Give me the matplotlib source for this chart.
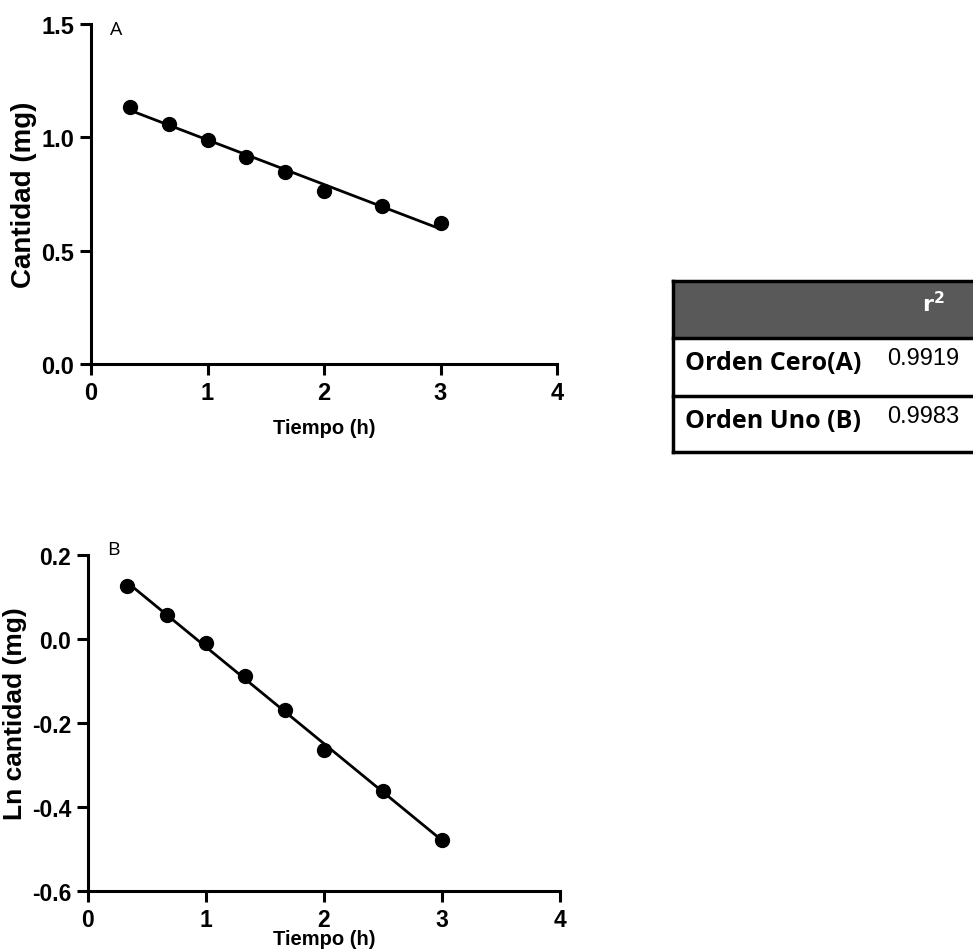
import numpy as np
import matplotlib
matplotlib.use("Agg")
import matplotlib.pyplot as plt
from matplotlib.patches import Rectangle

# ---- data ----
tiempo = [0.333, 0.667, 1.0, 1.333, 1.667, 2.0, 2.5, 3.0]
cantidad = [1.135, 1.06, 0.99, 0.915, 0.845, 0.765, 0.695, 0.62]
ln_cantidad = [0.127, 0.058, -0.010, -0.088, -0.170, -0.265, -0.362, -0.478]
modelos = ["Orden Cero(A)", "Orden Uno (B)"]
r2_vals = ["0.9919", "0.9983"]

plt.rcParams['font.family'] = ['Liberation Sans', 'DejaVu Sans']

fig = plt.figure(figsize=(9.73, 9.53), dpi=100)

def style(ax, size):
    for s in ['top', 'right']:
        ax.spines[s].set_visible(False)
    for s in ['left', 'bottom']:
        ax.spines[s].set_linewidth(2.2)
    ax.tick_params(width=2.2, length=8, direction='out', labelsize=size, pad=4)
    for lab in ax.get_xticklabels() + ax.get_yticklabels():
        lab.set_fontweight('bold')

def fit_line(ax, x, y):
    x = np.asarray(x); y = np.asarray(y)
    m, b = np.polyfit(x, y, 1)
    xx = np.array([x.min(), x.max()])
    ax.plot(xx, m * xx + b, color='black', lw=2.0, zorder=2)
    ax.plot(x, y, 'o', color='black', ms=10, zorder=3)

# Panel A
axA = fig.add_axes([91/973, 1-365/953, 466/973, 340/953])
fit_line(axA, tiempo, cantidad)
axA.set_xlim(0, 4)
axA.set_ylim(0, 1.5)
axA.set_xticks([0, 1, 2, 3, 4])
axA.set_yticks([0.0, 0.5, 1.0, 1.5])
axA.set_yticklabels(["0.0", "0.5", "1.0", "1.5"])
style(axA, 17)
axA.set_ylabel("Cantidad (mg)", fontsize=20, fontweight='bold')
axA.yaxis.set_label_coords(-0.116, 0.5)
axA.set_xlabel("Tiempo (h)", fontsize=14.5, fontweight='bold', labelpad=10)
axA.text(0.16, 1.48, "A", fontsize=14, family=['Open Sans', 'DejaVu Sans'],
         va='center', ha='left')

# Panel B
axB = fig.add_axes([88/973, 1-892/953, 472/973, 336/953])
fit_line(axB, tiempo, ln_cantidad)
axB.set_xlim(0, 4)
axB.set_ylim(-0.6, 0.2)
axB.set_xticks([0, 1, 2, 3, 4])
axB.set_yticks([-0.6, -0.4, -0.2, 0.0, 0.2])
axB.set_yticklabels(["-0.6", "-0.4", "-0.2", "0.0", "0.2"])
style(axB, 16.5)
axB.set_ylabel("Ln cantidad (mg)", fontsize=19, fontweight='bold')
axB.yaxis.set_label_coords(-0.13, 0.53)
axB.set_xlabel("Tiempo (h)", fontsize=14.5, fontweight='bold', labelpad=-1)
axB.text(0.16, 0.215, "B", fontsize=14, family=['Open Sans', 'DejaVu Sans'],
         va='center', ha='left')

# Table
W, H = 973, 953
def fx(px): return px / W
def fy(py): return 1 - py / H
left, right = 673, 1000
y0, y1, y2, y3 = 282, 339, 397, 453
fig.patches.append(Rectangle((fx(left), fy(y1)), fx(right - left), (y1 - y0) / H,
                             transform=fig.transFigure, facecolor='#595959',
                             edgecolor='none', zorder=1))
lw = 2.5
for yy in [y0, y1, y2, y3]:
    fig.add_artist(plt.Line2D([fx(left), fx(right)], [fy(yy), fy(yy)],
                              transform=fig.transFigure, color='black', lw=lw))
fig.add_artist(plt.Line2D([fx(left), fx(left)], [fy(y0), fy(y3)],
                          transform=fig.transFigure, color='black', lw=lw))
fig.text(fx(922), fy(312), r"$\mathbf{r^2}$", color='white', fontsize=16,
         ha='left', va='baseline', family=['Open Sans', 'DejaVu Sans'], fontweight='bold')
rows_y = [364, 422]
for lab, val, yy in zip(modelos, r2_vals, rows_y):
    fig.text(fx(685), fy(yy), lab, fontsize=18, fontweight='bold',
             family=['Open Sans', 'DejaVu Sans'], ha='left', va='center')
    fig.text(fx(887), fy(yy - 5), val, fontsize=17, ha='left', va='center')

fig.savefig("out.png", dpi=100)
